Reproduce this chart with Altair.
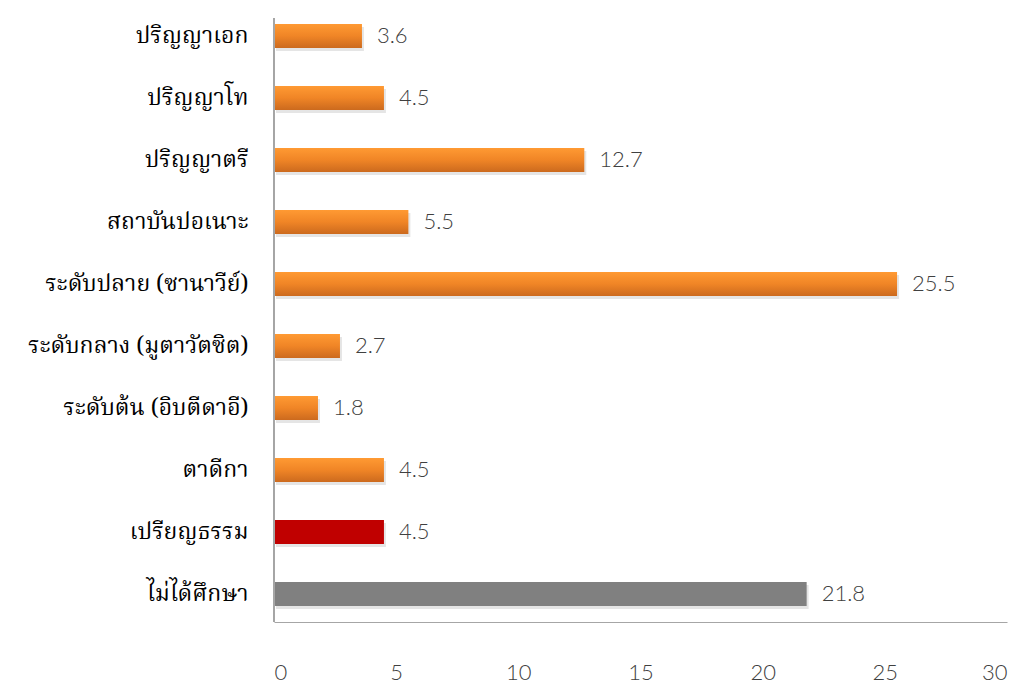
import altair as alt
import pandas as pd

categories = ["ปริญญาเอก", "ปริญญาโท", "ปริญญาตรี", "สถาบันปอเนาะ",
              "ระดับปลาย (ซานาวีย์)", "ระดับกลาง (มูตาวัตซิต)", "ระดับต้น (อิบตีดาอี)",
              "ตาดีกา", "เปรียญธรรม", "ไม่ได้ศึกษา"]
values = [3.6, 4.5, 12.7, 5.5, 25.5, 2.7, 1.8, 4.5, 4.5, 21.8]
groups = ["orange"] * 8 + ["red", "gray"]
x_ticks = [0, 5, 10, 15, 20, 25, 30]

df = pd.DataFrame({"cat": categories, "val": values, "grp": groups})

W, H = 733, 614
THAI = "Kinnari, Norasi, 'Noto Serif Thai', 'Noto Sans Thai', Loma, serif"
NUM = "Lato, 'Open Sans', sans-serif"

y_enc = alt.Y("cat:N", sort=categories, title=None,
              scale=alt.Scale(paddingInner=0.6, paddingOuter=0.25),
              axis=alt.Axis(domain=False, ticks=False, labelFont=THAI, labelFontSize=23,
                            labelFontWeight="normal",
                            labelColor="#000000", labelPadding=26, labelLimit=300))
x_enc = alt.X("val:Q", title=None,
              scale=alt.Scale(domain=[0, 30], nice=False),
              axis=alt.Axis(values=x_ticks, grid=False, ticks=False, domainColor="#A6A6A6",
                            domainWidth=1.2, labelFont=NUM, labelFontSize=22, labelFontWeight=300,
                            labelColor="#404040", labelPadding=40))

base = alt.Chart(df)

orange_grad = alt.Gradient(gradient="linear", x1=0, x2=0, y1=0, y2=1,
                           stops=[alt.GradientStop(offset=0, color="#FF9A33"),
                                  alt.GradientStop(offset=0.5, color="#F08526"),
                                  alt.GradientStop(offset=1, color="#CC6A1E")])

shadow = base.mark_bar(size=24, color="#000000", opacity=0.10, xOffset=2, yOffset=3).encode(
    x=x_enc, y=y_enc)
orange = base.mark_bar(size=24, color=orange_grad).encode(x=x_enc, y=y_enc).transform_filter(
    alt.datum.grp == "orange")
red = base.mark_bar(size=24, color="#C00000").encode(x=x_enc, y=y_enc).transform_filter(
    alt.datum.grp == "red")
gray = base.mark_bar(size=24, color="#808080").encode(x=x_enc, y=y_enc).transform_filter(
    alt.datum.grp == "gray")
labels = base.mark_text(align="left", dx=15, font=NUM, fontSize=22, fontWeight=300,
                        color="#404040").encode(
    x=x_enc, y=y_enc, text=alt.Text("val:Q", format=".1f"))
vline = alt.Chart(df).mark_rule(color="#A6A6A6", strokeWidth=1.2).encode(
    x=alt.value(0), y=alt.value(10), y2=alt.value(H))

chart = alt.layer(shadow, orange, red, gray, labels, vline).properties(
    width=W, height=H,
    autosize=alt.AutoSizeParams(type="none"),
    padding={"left": 266, "top": 0, "right": 12, "bottom": 64},
).configure_view(stroke=None)

chart.save("out.html", embed_options={"renderer": "svg", "actions": False})
